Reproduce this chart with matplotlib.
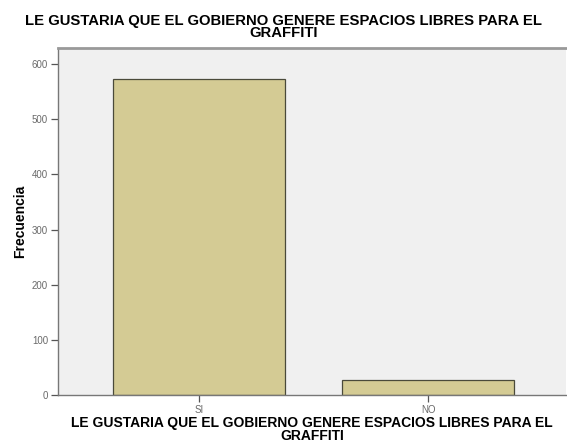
import matplotlib.pyplot as plt

# Datos
categorias = ["SI", "NO"]
frecuencias = [573, 27]
titulo = "LE GUSTARIA QUE EL GOBIERNO GENERE ESPACIOS LIBRES PARA EL\nGRAFFITI"
yticks = [0, 100, 200, 300, 400, 500, 600]

plt.rcParams['font.family'] = ['Liberation Sans', 'DejaVu Sans']

fig = plt.figure(figsize=(5.67, 4.48), dpi=100)
ax = fig.add_axes([0.102, 0.118, 0.896, 0.775])
ax.set_facecolor("#f0f0f0")

x = range(len(categorias))
ax.bar(x, frecuencias, width=0.75, color="#d4cb94", edgecolor="#4a4a3a", linewidth=0.9)

ax.set_xlim(-0.615, 1.6)
ax.set_ylim(0, 629)
ax.set_xticks(list(x))
ax.set_xticklabels(categorias)
ax.set_yticks(yticks)
ax.tick_params(labelsize=7, labelcolor="#6a6a6a", color="#555555", length=5, width=0.9, pad=2)

for s in ["left", "bottom"]:
    ax.spines[s].set_color("#777777")
    ax.spines[s].set_linewidth(1.0)
ax.spines["top"].set_color("#999999")
ax.spines["top"].set_linewidth(2)
ax.spines["right"].set_visible(False)

ax.set_ylabel("Frecuencia", fontsize=10, fontweight="bold", va="center")
ax.yaxis.set_label_coords(-0.075, 0.5)
ax.set_xlabel(titulo, fontsize=10, fontweight="bold", linespacing=0.9, va="center")
ax.xaxis.set_label_coords(0.5, -0.1)
fig.text(0.5, 0.94, titulo, ha="center", va="center", fontsize=10.7,
         fontweight="bold", linespacing=0.85)

plt.savefig("out.png", dpi=100)
